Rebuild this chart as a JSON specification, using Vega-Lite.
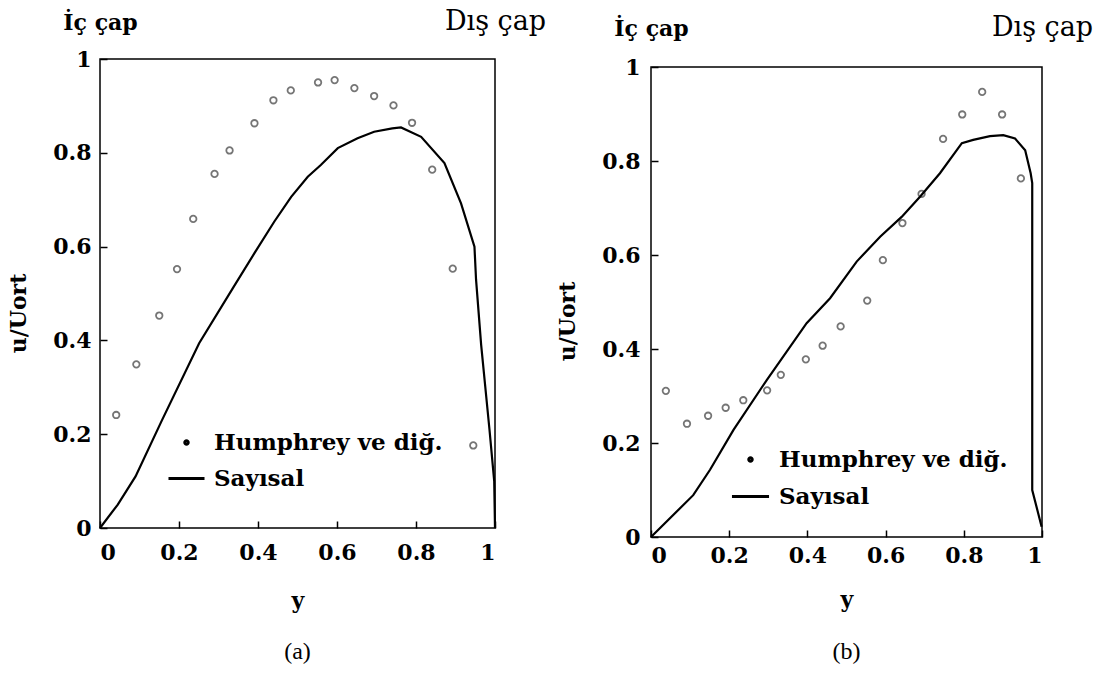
{
  "$schema": "https://vega.github.io/schema/vega-lite/v6.json",
  "background": "white",
  "padding": {"left": 6, "top": 5, "right": 0, "bottom": 0},
  "spacing": 8,
  "columns": 2,
  "datasets": {
    "olcumA": [
      {"y": 0.041, "u": 0.241}, {"y": 0.092, "u": 0.349}, {"y": 0.150, "u": 0.453},
      {"y": 0.195, "u": 0.552}, {"y": 0.236, "u": 0.659}, {"y": 0.290, "u": 0.755},
      {"y": 0.328, "u": 0.805}, {"y": 0.391, "u": 0.863}, {"y": 0.439, "u": 0.912},
      {"y": 0.483, "u": 0.933}, {"y": 0.552, "u": 0.950}, {"y": 0.594, "u": 0.955},
      {"y": 0.644, "u": 0.938}, {"y": 0.694, "u": 0.921}, {"y": 0.743, "u": 0.901},
      {"y": 0.790, "u": 0.864}, {"y": 0.841, "u": 0.764}, {"y": 0.893, "u": 0.553},
      {"y": 0.945, "u": 0.176}
    ],
    "sayisalA": [
      {"y": 0, "u": 0}, {"y": 0.045, "u": 0.05}, {"y": 0.09, "u": 0.11},
      {"y": 0.157, "u": 0.23}, {"y": 0.251, "u": 0.394}, {"y": 0.336, "u": 0.511},
      {"y": 0.391, "u": 0.586}, {"y": 0.441, "u": 0.653}, {"y": 0.484, "u": 0.706},
      {"y": 0.526, "u": 0.749}, {"y": 0.559, "u": 0.774}, {"y": 0.602, "u": 0.81},
      {"y": 0.652, "u": 0.831}, {"y": 0.694, "u": 0.845}, {"y": 0.74, "u": 0.852},
      {"y": 0.762, "u": 0.854}, {"y": 0.813, "u": 0.834}, {"y": 0.872, "u": 0.778},
      {"y": 0.914, "u": 0.692}, {"y": 0.948, "u": 0.6}, {"y": 0.952, "u": 0.53},
      {"y": 0.965, "u": 0.39}, {"y": 0.986, "u": 0.21}, {"y": 0.998, "u": 0.1},
      {"y": 1.0, "u": 0}
    ],
    "olcumB": [
      {"y": 0.038, "u": 0.311}, {"y": 0.092, "u": 0.241}, {"y": 0.146, "u": 0.258},
      {"y": 0.191, "u": 0.275}, {"y": 0.236, "u": 0.291}, {"y": 0.297, "u": 0.312},
      {"y": 0.332, "u": 0.345}, {"y": 0.396, "u": 0.378}, {"y": 0.439, "u": 0.407},
      {"y": 0.485, "u": 0.448}, {"y": 0.553, "u": 0.503}, {"y": 0.593, "u": 0.589},
      {"y": 0.643, "u": 0.668}, {"y": 0.692, "u": 0.73}, {"y": 0.747, "u": 0.847},
      {"y": 0.796, "u": 0.899}, {"y": 0.847, "u": 0.947}, {"y": 0.898, "u": 0.899},
      {"y": 0.946, "u": 0.763}
    ],
    "sayisalB": [
      {"y": 0, "u": 0}, {"y": 0.108, "u": 0.089}, {"y": 0.151, "u": 0.143},
      {"y": 0.211, "u": 0.228}, {"y": 0.296, "u": 0.334}, {"y": 0.398, "u": 0.455},
      {"y": 0.458, "u": 0.508}, {"y": 0.526, "u": 0.586}, {"y": 0.586, "u": 0.639},
      {"y": 0.641, "u": 0.681}, {"y": 0.688, "u": 0.724}, {"y": 0.739, "u": 0.774},
      {"y": 0.795, "u": 0.838}, {"y": 0.824, "u": 0.845}, {"y": 0.867, "u": 0.853},
      {"y": 0.901, "u": 0.855}, {"y": 0.931, "u": 0.848}, {"y": 0.957, "u": 0.823},
      {"y": 0.971, "u": 0.774}, {"y": 0.975, "u": 0.753}, {"y": 0.975, "u": 0.1},
      {"y": 0.999, "u": 0.022}
    ]
  },
  "resolve": {"scale": {"shape": "independent"}, "legend": {"shape": "independent"}},
  "concat": [
    {
      "spacing": 0,
      "vconcat": [
        {"width": 395, "height": 1, "data": {"values": []}, "mark": "point", "view": {"stroke": null}},
        {
          "width": 395,
          "height": 469,
          "title": {"text": "(a)", "orient": "bottom", "font": "Liberation Serif", "fontSize": 24, "fontWeight": "normal", "color": "black", "offset": 29},
          "resolve": {"axis": {"x": "independent"}},
          "layer": [
            {
              "data": {"name": "olcumA"},
              "transform": [{"calculate": "'Humphrey ve diğ.'", "as": "seri"}],
              "mark": {"type": "point", "filled": false, "size": 42, "strokeWidth": 1.8, "color": "#3c3c3c"},
              "encoding": {
                "x": {"field": "y", "type": "quantitative", "scale": {"domain": [0, 1], "nice": false},
                      "axis": {"title": "y", "values": [0, 0.2, 0.4, 0.6, 0.8, 1], "format": "~g", "labelPadding": 14, "titlePadding": 27}},
                "y": {"field": "u", "type": "quantitative", "scale": {"domain": [0, 1], "nice": false},
                      "axis": {"title": "u/Uort", "values": [0, 0.2, 0.4, 0.6, 0.8, 1], "format": "~g", "labelPadding": 9, "titlePadding": 22, "titleY": 254}},
                "shape": {"field": "seri", "type": "nominal",
                          "scale": {"domain": ["Humphrey ve diğ.", "Sayısal"], "range": ["circle", "M-10.4,0H10.4"]},
                          "legend": {"orient": "none", "legendX": 75, "legendY": 426, "title": null, "padding": 0,
                                     "labelFont": "DejaVu Serif", "labelFontSize": 23, "labelFontWeight": "bold", "labelColor": "black", "labelLimit": 400,
                                     "labelOffset": 16, "symbolSize": 12, "symbolStrokeWidth": 3, "rowPadding": 12,
                                     "symbolFillColor": "black", "symbolStrokeColor": "black", "symbolOpacity": 1}}
              }
            },
            {
              "data": {"name": "sayisalA"},
              "mark": {"type": "line", "color": "black", "strokeWidth": 2.2},
              "encoding": {
                "x": {"field": "y", "type": "quantitative", "scale": {"domain": [0, 1], "nice": false},
                      "axis": {"orient": "top", "title": null, "values": [0, 1], "ticks": false, "domain": false, "offset": 0, "labelFlush": false, "labelOverlap": false,
                               "labelExpr": "datum.value == 0 ? 'İç çap' : 'Dış çap'", "labelBaseline": "alphabetic", "labelPadding": 30,
                               "labelFontSize": {"condition": {"test": "datum.value == 0", "value": 22}, "value": 27},
                               "labelFontWeight": {"condition": {"test": "datum.value == 0", "value": "bold"}, "value": "normal"}}},
                "y": {"field": "u", "type": "quantitative"},
                "order": {"value": null}
              }
            }
          ]
        }
      ]
    },
    {
      "spacing": 0,
      "vconcat": [
        {"width": 391, "height": 7, "data": {"values": []}, "mark": "point", "view": {"stroke": null}},
        {
          "width": 391,
          "height": 470,
          "title": {"text": "(b)", "orient": "bottom", "font": "Liberation Serif", "fontSize": 24, "fontWeight": "normal", "color": "black", "offset": 30},
          "resolve": {"axis": {"x": "independent"}},
          "layer": [
            {
              "data": {"name": "olcumB"},
              "transform": [{"calculate": "'Humphrey ve diğ.'", "as": "seri"}],
              "mark": {"type": "point", "filled": false, "size": 42, "strokeWidth": 1.8, "color": "#3c3c3c"},
              "encoding": {
                "x": {"field": "y", "type": "quantitative", "scale": {"domain": [0, 1], "nice": false},
                      "axis": {"title": "y", "values": [0, 0.2, 0.4, 0.6, 0.8, 1], "format": "~g", "labelPadding": 8, "titlePadding": 23}},
                "y": {"field": "u", "type": "quantitative", "scale": {"domain": [0, 1], "nice": false},
                      "axis": {"title": "u/Uort", "values": [0, 0.2, 0.4, 0.6, 0.8, 1], "format": "~g", "labelPadding": 11, "titlePadding": 22, "titleY": 254}},
                "shape": {"field": "seri", "type": "nominal",
                          "scale": {"domain": ["Humphrey ve diğ.", "Sayısal"], "range": ["circle", "M-10.7,0H10.7"]},
                          "legend": {"orient": "none", "legendX": 88, "legendY": 443, "title": null, "padding": 0,
                                     "labelFont": "DejaVu Serif", "labelFontSize": 23, "labelFontWeight": "bold", "labelColor": "black", "labelLimit": 400,
                                     "labelOffset": 17, "symbolSize": 12, "symbolStrokeWidth": 3, "rowPadding": 13,
                                     "symbolFillColor": "black", "symbolStrokeColor": "black", "symbolOpacity": 1}}
              }
            },
            {
              "data": {"name": "sayisalB"},
              "mark": {"type": "line", "color": "black", "strokeWidth": 2.2},
              "encoding": {
                "x": {"field": "y", "type": "quantitative", "scale": {"domain": [0, 1], "nice": false},
                      "axis": {"orient": "top", "title": null, "values": [0, 1], "ticks": false, "domain": false, "offset": 0, "labelFlush": false, "labelOverlap": false,
                               "labelExpr": "datum.value == 0 ? 'İç çap' : 'Dış çap'", "labelBaseline": "alphabetic", "labelPadding": 32,
                               "labelFontSize": {"condition": {"test": "datum.value == 0", "value": 22}, "value": 27},
                               "labelFontWeight": {"condition": {"test": "datum.value == 0", "value": "bold"}, "value": "normal"}}},
                "y": {"field": "u", "type": "quantitative"},
                "order": {"value": null}
              }
            }
          ]
        }
      ]
    }
  ],
  "config": {
    "font": "DejaVu Serif",
    "view": {"stroke": "black", "strokeWidth": 1.5},
    "axis": {
      "grid": false, "domain": false, "offset": -7,
      "labelFont": "DejaVu Serif", "labelFontSize": 22, "labelFontWeight": "bold", "labelColor": "black",
      "tickColor": "black", "tickSize": 7, "tickWidth": 1.5,
      "titleFont": "DejaVu Serif", "titleFontSize": 22, "titleFontWeight": "bold", "titleColor": "black"
    }
  }
}
